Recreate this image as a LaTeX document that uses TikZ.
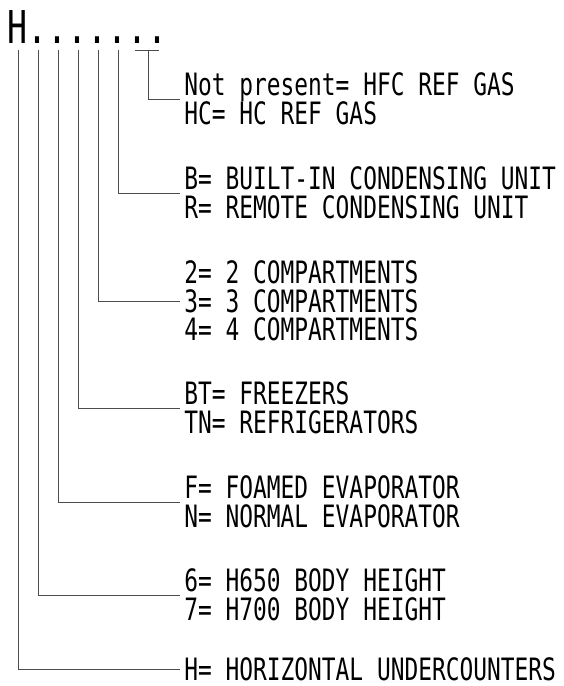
\documentclass[tikz,border=0pt]{standalone}
\usepackage{fontspec}
\newfontfamily\codefont[FakeStretch=0.735]{DejaVu Sans Mono}
\newfontfamily\legendfont[FakeStretch=0.742]{DejaVu Sans Mono}
\newcommand\legendsize{\fontsize{26.3}{24.4}\selectfont\lineskiplimit=-50pt\relax}
\usepackage{tikz}

\begin{document}
\begin{tikzpicture}[x=0.03cm, y=-0.03cm,
    code/.style={font={\codefont\fontsize{38.6}{40}\selectfont}, inner sep=0pt, anchor=base},
    legend/.style={font={\legendfont\legendsize},
        align=left, anchor=west, inner xsep=3.5pt, inner ysep=0pt},
    lead/.style={draw=black!70, line width=0.7pt}]
    \useasboundingbox (0,0) rectangle (564,686);

    % the code
    \node[code] (h) at (18,43) {H};
    \foreach \i in {1,...,7}
        \node[code] (d\i) at (18+20*\i,43) {.};
    \coordinate (top) at (0,50);

    % the meanings
    \node[legend] (t1) at (180,99) {Not present= HFC REF GAS\\HC= HC REF GAS};
    \node[legend] (t2) at (180,193) {B= BUILT-IN CONDENSING UNIT\\R= REMOTE CONDENSING UNIT};
    \node[legend] (t3) at (180,301) {2= 2 COMPARTMENTS\\3= 3 COMPARTMENTS\\4= 4 COMPARTMENTS};
    \node[legend] (t4) at (180,408) {BT= FREEZERS\\TN= REFRIGERATORS};
    \node[legend] (t5) at (180,502) {F= FOAMED EVAPORATOR\\N= NORMAL EVAPORATOR};
    \node[legend] (t6) at (180,595) {6= H650 BODY HEIGHT\\7= H700 BODY HEIGHT};
    \node[legend] (t7) at (180,669) {H= HORIZONTAL UNDERCOUNTERS};

    % leads
    \foreach \c/\t in {h/t7, d1/t6, d2/t5, d3/t4, d4/t3, d5/t2}
        \draw[lead] (\c |- top) |- (\t.west);
    \draw[lead] (d6 |- top) ++(-3,0) -- ++(24,0);
    \draw[lead] (d6 |- top) ++(10,0) |- (t1.west);
\end{tikzpicture}
\end{document}
